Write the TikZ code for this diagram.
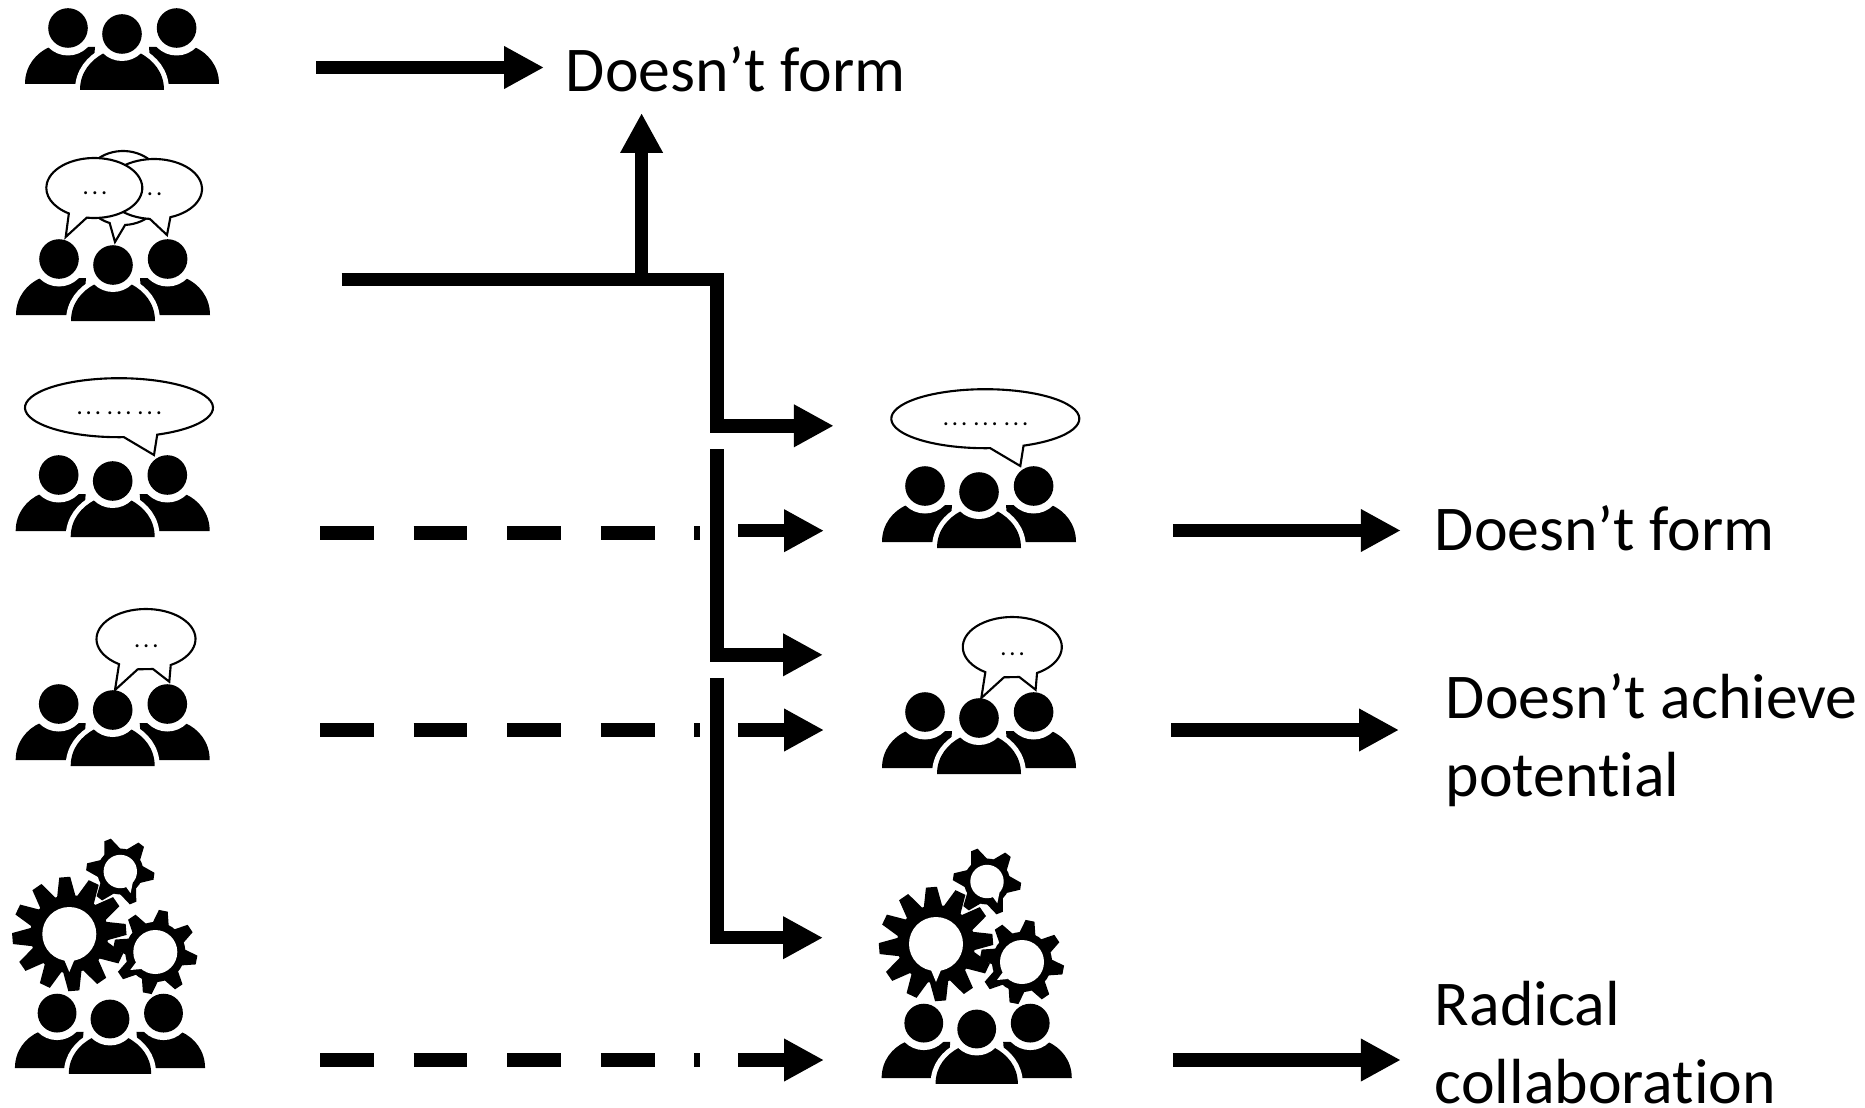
\documentclass[tikz,border=0pt]{standalone}
\usepackage{fontspec}
\setmainfont[Ligatures=NoCommon]{Carlito}
\newfontfamily\dotfont[LetterSpace=12]{Carlito}
\usetikzlibrary{arrows.meta}
\newcommand{\gearwheel}[7]{
	\fill (0,0) circle (#4);
	\foreach \t in {1,...,#1} {
		\fill[rotate=#2+\t*360/#1] (#4-3,-#6) -- (#3,-#5) -- (#3,#5) -- (#4-3,#6) -- cycle;
	}
	\fill[white] (0,0) circle (#7);
}
\tikzset{
	labeltext/.style={inner sep=0pt,anchor=base west,align=left,font=\fontsize{36.3}{44}\selectfont},
	dots/.style={inner sep=0pt,anchor=base,font=\dotfont\fontsize{14}{14}\selectfont},
	bubble/.style={draw=black,fill=white,line width=1.2pt},
	flow/.style={line width=7.65pt},
	flowdash/.style={line width=7.65pt,dash pattern=on 30.6pt off 22.68pt},
	crowd/.pic={
		\fill (-97,-50) .. controls (-97,-32) and (-86,-19) .. (-72.4,-13) -- (-27,-13) -- (-30,-50) -- cycle;
		\fill (97,-50) .. controls (97,-32) and (86,-19) .. (72.4,-13) -- (27,-13) -- (30,-50) -- cycle;
		\fill[white,draw=white,line width=5.67pt] (-42,-56) .. controls (-42,-38) and (-31,-26) .. (-18,-19) -- (18,-19) .. controls (31,-26) and (42,-38) .. (42,-56) -- cycle;
		\fill (-42,-56) .. controls (-42,-38) and (-31,-26) .. (-18,-19) -- (18,-19) .. controls (31,-26) and (42,-38) .. (42,-56) -- cycle;
		\fill[white] (-54,6) circle (27.5) (54.6,6) circle (27.5) (0,0) circle (27);
		\fill (-54,6) circle (19.8) (54.6,6) circle (19.8) (0,0) circle (19.8);
	},
	talkpair/.pic={
		\draw[bubble] (10,77) ++(273:41 and 37) arc[start angle=273,end angle=611,x radius=41,y radius=37] -- (2,23) -- cycle;
		\draw[bubble] (41,76) ++(-70:48 and 30) arc[start angle=-70,end angle=265,x radius=48,y radius=30] -- (54,30) -- cycle;
		\node[dots] (-right) at (37,69.7) {...};
		\draw[bubble] (-18.7,77) ++(261:48 and 30) arc[start angle=261,end angle=598,x radius=48,y radius=30] -- (-47.3,28) -- cycle;
		\node[dots] (-left) at (-18,70.7) {...};
	},
	talkwide/.pic={
		\draw[bubble] (6.3,73.3) ++(-66:94 and 29.5) arc[start angle=-66,end angle=273,x radius=94,y radius=29.5] -- (41.3,26) -- cycle;
		\node[dots] (-text) at (6.6,66.7) {...\kern3.4pt...\kern3.4pt...};
	},
	talkone/.pic={
		\draw[bubble] (33.3,71) ++(-60:49.5 and 30) arc[start angle=-60,end angle=237,x radius=49.5,y radius=30] -- (2.3,20) -- (25,40.7) -- (40.3,41) -- (56.6,28.3) -- cycle;
		\node[dots] (-text) at (33.6,63) {...};
	},
	gears/.pic={
		\begin{scope}[shift={(-40.7,85)}]
			\gearwheel{12}{4.6}{57}{39}{5.5}{9.5}{27}
			\fill[white] (-5,-26) -- (0,-38) -- (5,-26) -- cycle;
		\end{scope}
		\begin{scope}[shift={(10.3,147.5)}]
			\gearwheel{6}{-8}{34}{23}{3.5}{9}{16.7}
			\fill[white] (5.5,-15) -- (10.3,-21.7) -- (12.5,-11) -- cycle;
		\end{scope}
		\begin{scope}[shift={(45.3,67)}]
			\gearwheel{8}{34}{42}{30}{4.5}{8.5}{22}
			\fill[white] (-19,-10) -- (-25,-18) -- (-14,-17) -- cycle;
		\end{scope}
	},
}
\begin{document}
\begin{tikzpicture}[x=0.02cm,y=0.02cm]
	\tikzset{>={Triangle[length=22.7pt,width=22.7pt]}}
	\useasboundingbox (0,0) rectangle (1865,-1108);
	% left column
	\pic (crowdA) at (122,-34) {crowd};
	\pic (crowdB) at (113,-265) {crowd};
	\pic (talkB) at (113,-265) {talkpair};
	\pic (crowdC) at (112.7,-481) {crowd};
	\pic (talkC) at (112.7,-481) {talkwide};
	\pic (crowdD) at (112.7,-710) {crowd};
	\pic (talkD) at (112.7,-710) {talkone};
	\pic[scale=.98] (crowdE) at (110,-1019) {crowd};
	\pic (gearsE) at (110,-1019) {gears};
	% middle column
	\pic (crowdF) at (979,-492) {crowd};
	\pic (talkF) at (979,-492) {talkwide};
	\pic (crowdG) at (979,-718) {crowd};
	\pic (talkG) at (979,-718) {talkone};
	\pic[scale=.98] (crowdH) at (976.7,-1029) {crowd};
	\pic (gearsH) at (976.7,-1029) {gears};
	% outcomes
	\node[labeltext] (formA) at (565.5,-92) {Doesn’t form};
	\node[labeltext] (formB) at (1434.5,-550) {Doesn’t form};
	\node[labeltext] (achieve) at (1445.5,-796) {Doesn’t achieve\\potential};
	\node[labeltext] (radical) at (1434.5,-1103) {Radical\\collaboration};
	% arrow ends
	\coordinate (a1) at (316,-67.5);
	\coordinate (a2) at (544,-67.5);
	\coordinate (b1) at (341.5,-279.7);
	\coordinate (b2) at (641.6,-279.7);
	\coordinate (b3) at (641.6,-113);
	\coordinate (b4) at (717,-279.7);
	\coordinate (b5) at (717,-425.8);
	\coordinate (b6) at (833.8,-425.8);
	\coordinate (c1) at (717,-449);
	\coordinate (c2) at (717,-654.8);
	\coordinate (c3) at (823,-654.8);
	\coordinate (d1) at (717,-678.4);
	\coordinate (d2) at (717,-937.7);
	\coordinate (d3) at (823,-937.7);
	\coordinate (e1) at (320,-532.8);
	\coordinate (e2) at (700,-532.8);
	\coordinate (e3) at (738,-530.7);
	\coordinate (e4) at (824,-530.7);
	\coordinate (f1) at (320,-729.8);
	\coordinate (f2) at (700,-729.8);
	\coordinate (f3) at (738,-730);
	\coordinate (f4) at (824,-730);
	\coordinate (g1) at (320,-1059.8);
	\coordinate (g2) at (700,-1059.8);
	\coordinate (g3) at (738,-1060);
	\coordinate (g4) at (824,-1060);
	\coordinate (h1) at (1172.8,-530.5);
	\coordinate (h2) at (1400.8,-530.5);
	\coordinate (i1) at (1171,-730);
	\coordinate (i2) at (1399,-730);
	\coordinate (j1) at (1172.8,-1060);
	\coordinate (j2) at (1400.8,-1060);
	% connectors
	\draw[flow,->] (a1) -- (a2);
	\draw[flow,->] (b2) -- (b3);
	\draw[flow,->] (b1) -- (b4) -- (b5) -- (b6);
	\draw[flow,->] (c1) -- (c2) -- (c3);
	\draw[flow,->] (d1) -- (d2) -- (d3);
	\draw[flowdash] (e1) -- (e2);
	\draw[flow,->] (e3) -- (e4);
	\draw[flowdash] (f1) -- (f2);
	\draw[flow,->] (f3) -- (f4);
	\draw[flowdash] (g1) -- (g2);
	\draw[flow,->] (g3) -- (g4);
	\draw[flow,->] (h1) -- (h2);
	\draw[flow,->] (i1) -- (i2);
	\draw[flow,->] (j1) -- (j2);
\end{tikzpicture}
\end{document}
